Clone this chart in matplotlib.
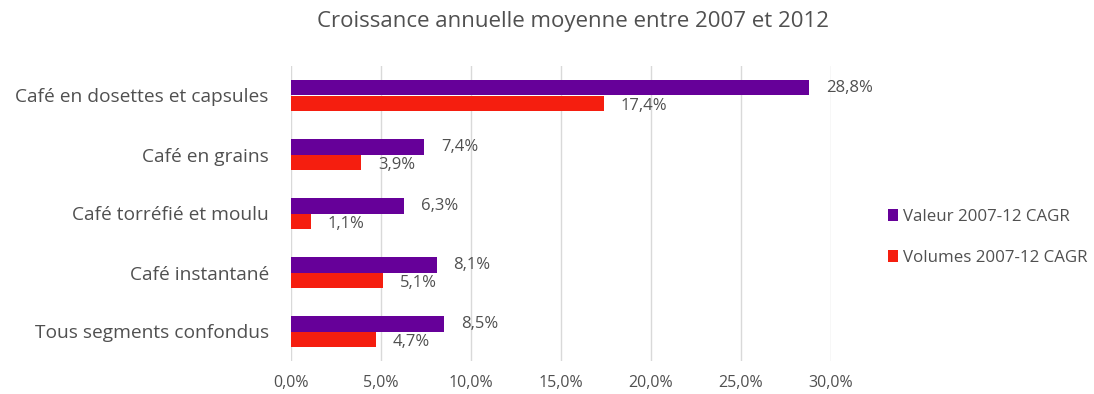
import matplotlib
matplotlib.use("Agg")
import matplotlib.pyplot as plt
import numpy as np

plt.rcParams['font.family'] = ['Open Sans', 'DejaVu Sans']

categories = ['Café en dosettes et capsules', 'Café en grains', 'Café torréfié et moulu',
              'Café instantané', 'Tous segments confondus']
valeur = [28.8, 7.4, 6.3, 8.1, 8.5]
volumes = [17.4, 3.9, 1.1, 5.1, 4.7]
xticks = [0, 5, 10, 15, 20, 25, 30]

text_col = '#505050'
purple = '#660099'
red = '#F51E0F'

fig = plt.figure(figsize=(10.94, 3.94), dpi=100)
# plot area in pixels: x 291..831, y 66..361
ax = fig.add_axes([291 / 1094, 1 - 361 / 394, 540 / 1094, 295 / 394])

y = np.arange(len(categories))
h = 0.255
ax.barh(y - h / 2, valeur, height=h, color=purple, label='Valeur 2007-12 CAGR')
ax.barh(y + h / 2, volumes, height=h, color=red, label='Volumes 2007-12 CAGR')

def fr(v):
    return f'{v:.1f}%'.replace('.', ',')

for yi, v in zip(y, valeur):
    ax.annotate(fr(v), (v, yi - h / 2), xytext=(12, 0), textcoords='offset points',
                va='center', ha='left', fontsize=12, color=text_col)
for yi, v in zip(y, volumes):
    ax.annotate(fr(v), (v, yi + h / 2), xytext=(12, -2), textcoords='offset points',
                va='center', ha='left', fontsize=12, color=text_col)

ax.set_ylim(len(categories) - 0.5, -0.5)
ax.set_xlim(0, 30)
ax.set_yticks(y, categories, fontsize=13.8, color=text_col)
ax.set_xticks(xticks, [fr(t) for t in xticks], fontsize=11.5, color=text_col)
ax.tick_params(length=0)
ax.tick_params(axis='x', pad=10)
ax.tick_params(axis='y', pad=16)
ax.grid(axis='x', color='#D9D9D9', linewidth=1)
ax.set_axisbelow(True)
for s in ax.spines.values():
    s.set_visible(False)

fig.suptitle('Croissance annuelle moyenne entre 2007 et 2012', x=573 / 1094, y=1 - 11 / 394,
             va='top', fontsize=16, color=text_col)

fig.legend(loc='upper left', bbox_to_anchor=(873 / 1094, 1 - 194 / 394), frameon=False,
           fontsize=12.2, labelcolor=text_col, handlelength=0.6, handleheight=0.7,
           handletextpad=0.25, labelspacing=1.45)

fig.savefig('out.png', dpi=100, facecolor='white')
